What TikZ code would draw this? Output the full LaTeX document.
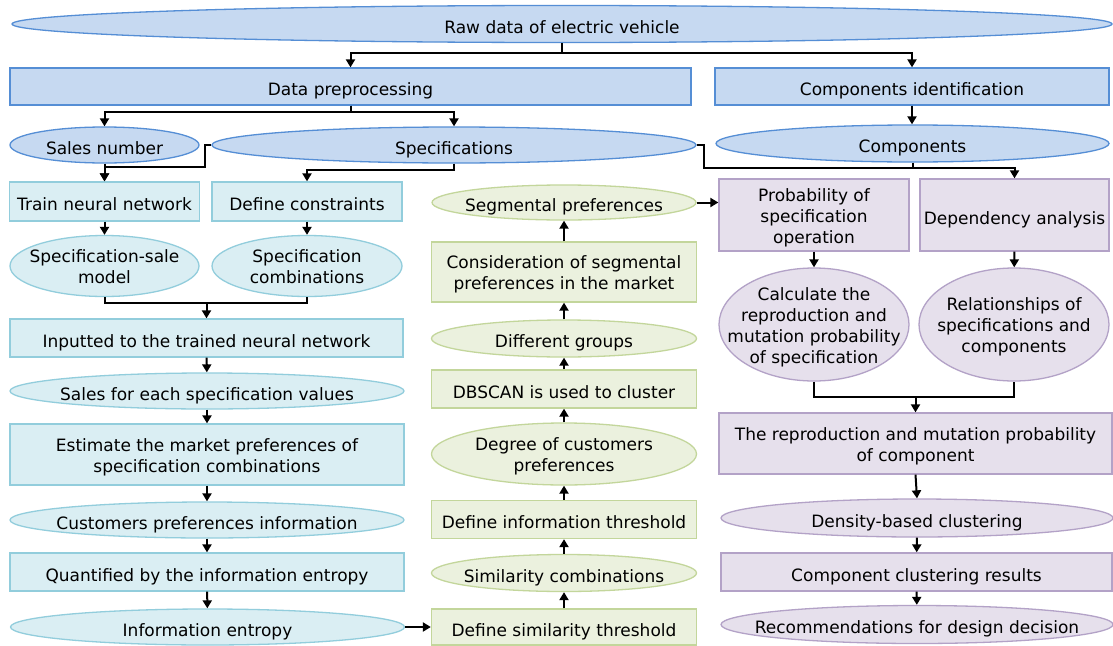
\documentclass[tikz,border=0pt]{standalone}
\usepackage{fontspec}
\setmainfont{DejaVu Sans}
\usetikzlibrary{shapes.geometric,arrows.meta}
\definecolor{blF}{RGB}{198,217,241}
\definecolor{blD}{RGB}{85,142,213}
\definecolor{cyF}{RGB}{218,238,243}
\definecolor{cyD}{RGB}{146,205,220}
\definecolor{grF}{RGB}{235,241,222}
\definecolor{grD}{RGB}{195,214,155}
\definecolor{puF}{RGB}{230,224,236}
\definecolor{puD}{RGB}{179,162,199}
\newcommand\mltext[1]{\raisebox{0pt}[\dimexpr\height+6pt\relax][\depth]{\begin{tabular}{@{}c@{}}#1\end{tabular}}}
\begin{document}
\begin{tikzpicture}[x=1pt,y=-1pt,
  every node/.style={font=\fontsize{17pt}{21pt}\selectfont, align=center, line width=1.3pt,
    execute at begin node={\rule{0pt}{22pt}}, execute at end node={\rule[-3.6pt]{0pt}{3.6pt}}},
  box/.style={rectangle, inner sep=0pt},
  oval/.style={ellipse, inner sep=-60pt},
  bl/.style={draw=blD, fill=blF},
  cy/.style={draw=cyD, fill=cyF},
  gr/.style={draw=grD, fill=grF},
  pu/.style={draw=puD, fill=puF},
  sz/.style 2 args={minimum width=#1, minimum height=#2},
  conn/.style={draw=black, line width=2pt},
  arr/.style={conn, -{Triangle[length=8pt,width=9pt]}}
]
\useasboundingbox (0,0) rectangle (1113,645);
\fill[white] (0,0) rectangle (1113,645);

% top blue
\node[oval,bl,sz={1100pt}{37pt}] (raw) at (562,24) {Raw data of electric vehicle};
\node[box,bl,sz={681pt}{37pt}] (dp) at (350.5,86.5) {Data preprocessing};
\node[box,bl,sz={394pt}{37pt}] (ci) at (912,86.5) {Components identification};
\node[oval,bl,sz={189pt}{36pt}] (sales) at (104.5,145) {Sales number};
\node[oval,bl,sz={484pt}{36pt}] (spec) at (454,145) {Specifications};
\node[oval,bl,sz={393pt}{37pt}] (comp) at (912.5,143.5) {Components};

% left cyan column
\node[box,cy,sz={190pt}{39pt}] (tnn) at (104.5,201.5) {Train neural network};
\node[box,cy,sz={190pt}{39pt}] (dc) at (307,201.5) {Define constraints};
\node[oval,cy,sz={189pt}{61pt}] (ssm) at (104.5,266) {\mltext{Specification-sale\\model}};
\node[oval,cy,sz={190pt}{61pt}] (sc) at (307,266) {\mltext{Specification\\combinations}};
\node[box,cy,sz={393pt}{38pt}] (inp) at (206.5,338) {Inputted to the trained neural network};
\node[oval,cy,sz={394pt}{36pt}] (sfe) at (207,391) {Sales for each specification values};
\node[box,cy,sz={394pt}{61pt}] (est) at (207,454.5) {\mltext{Estimate the market preferences of\\specification combinations}};
\node[oval,cy,sz={394pt}{36pt}] (cpi) at (207,520) {Customers preferences information};
\node[box,cy,sz={394pt}{38pt}] (qua) at (207,572) {Quantified by the information entropy};
\node[oval,cy,sz={394pt}{36pt}] (ie) at (207.5,627) {Information entropy};

% middle green column
\node[oval,gr,sz={264pt}{35pt}] (seg) at (564,202.5) {Segmental preferences};
\node[box,gr,sz={265pt}{60pt}] (con) at (564,272) {\mltext{Consideration of segmental\\preferences in the market}};
\node[oval,gr,sz={265pt}{37pt}] (dg) at (564,338.5) {Different groups};
\node[box,gr,sz={265pt}{38pt}] (db) at (564,389) {DBSCAN is used to cluster};
\node[oval,gr,sz={265pt}{62pt}] (deg) at (564,454) {\mltext{Degree of customers\\preferences}};
\node[box,gr,sz={265pt}{38pt}] (dit) at (564,519.5) {Define information threshold};
\node[oval,gr,sz={265pt}{37pt}] (simc) at (564,573) {Similarity combinations};
\node[box,gr,sz={265pt}{36pt}] (dst) at (564,627) {Define similarity threshold};

% right purple column
\node[box,pu,sz={190pt}{72pt}] (pso) at (814,215) {\mltext{Probability of\\specification\\operation}};
\node[box,pu,sz={189pt}{72pt}] (da) at (1014.5,215) {Dependency analysis};
\node[oval,pu,sz={190pt}{113pt}] (calc) at (814,324.5) {\mltext{Calculate the\\reproduction and\\mutation probability\\of specification}};
\node[oval,pu,sz={190pt}{113pt}] (rel) at (1014,324.5) {\mltext{Relationships of\\specifications and\\components}};
\node[box,pu,sz={393pt}{61pt}] (rmp) at (915.5,443.5) {\mltext{The reproduction and mutation probability\\of component}};
\node[oval,pu,sz={392pt}{38pt}] (dbc) at (917,518) {Density-based clustering};
\node[box,pu,sz={391pt}{38pt}] (ccr) at (916.5,572) {Component clustering results};
\node[oval,pu,sz={392pt}{38pt}] (rec) at (917,624.5) {Recommendations for design decision};

% junction coordinates
\coordinate (jA) at (205,167);
\coordinate (jB) at (704,168);
\coordinate (jC) at (206.5,303);
\coordinate (jD) at (915.5,397);

% connectors top
\draw[arr] (raw.south) -- ([yshift=-10pt]raw.south) -| (dp.north);
\draw[arr] (raw.south) -- ([yshift=-10pt]raw.south) -| (ci.north);
\draw[arr] (dp.south) -- ([yshift=-6pt]dp.south) -| (sales.north);
\draw[arr] (dp.south) -- ([yshift=-6pt]dp.south) -| (spec.north);
\draw[arr] (ci.south) -- (ci.south |- comp.north);

% row 3 to row 4
\draw[arr] (sales.south) -- (tnn.north);
\draw[arr] (spec.west) -| (jA) -| (tnn.north);
\draw[arr] (spec.south) -- ([yshift=-6pt]spec.south) -| (dc.north);
\draw[arr] (spec.east) -| (jB) -| (da.north);
\draw[conn] (comp.south) -- (comp.south |- jB);

% left column
\draw[arr] (tnn) -- (ssm);
\draw[arr] (dc) -- (sc);
\draw[conn] (ssm.south) |- (jC) -| (sc.south);
\draw[arr] (jC) -- (inp.north);
\draw[arr] (inp) -- (sfe);
\draw[arr] (sfe) -- (est);
\draw[arr] (est) -- (cpi);
\draw[arr] (cpi) -- (qua);
\draw[arr] (qua) -- (ie);
\draw[arr] (ie.east) -- (dst.west);

% middle column (upward)
\draw[arr] (dst) -- (simc);
\draw[arr] (simc) -- (dit);
\draw[arr] (dit) -- (deg);
\draw[arr] (deg) -- (db);
\draw[arr] (db) -- (dg);
\draw[arr] (dg) -- (con);
\draw[arr] (con) -- (seg);
\draw[arr] (seg.east) -- (seg.east -| pso.west);

% right column
\draw[arr] (pso) -- (calc);
\draw[arr] (da) -- (rel);
\draw[conn] (calc.south) |- (jD) -| (rel.south);
\draw[arr] (jD) -- (rmp.north);
\draw[arr] (rmp.south) -- (dbc.north);
\draw[arr] (dbc) -- (ccr);
\draw[arr] (ccr) -- (rec);
\end{tikzpicture}
\end{document}
